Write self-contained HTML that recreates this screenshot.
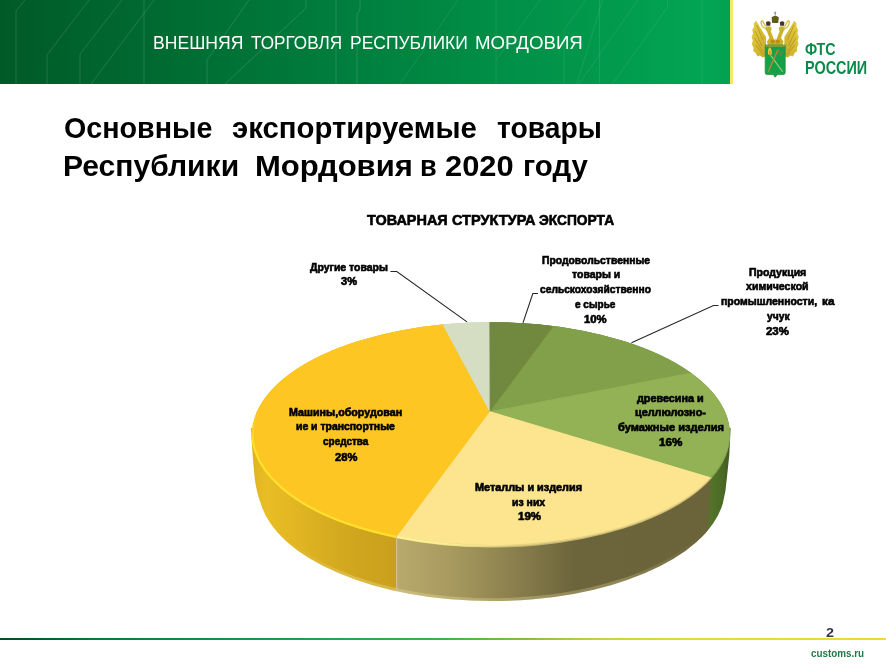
<!DOCTYPE html>
<html lang="ru">
<head>
<meta charset="utf-8">
<title>Внешняя торговля Республики Мордовия</title>
<style>
html,body{margin:0;padding:0;background:#fff;}
body{width:886px;height:664px;position:relative;overflow:hidden;font-family:"Liberation Sans",sans-serif;}
.abs{position:absolute;}
.t{position:absolute;white-space:pre;transform-origin:left top;}
.l{-webkit-text-stroke:0.6px #000;}
.m{-webkit-text-stroke:0.6px #000;}
#hdr{position:absolute;left:0;top:0;width:730px;height:84px;background:linear-gradient(90deg,#005a27 0%,#00803e 50%,#02a553 97%,#04a052 100%);}
#hdrstripe{position:absolute;left:729.8px;top:0;width:3.3px;height:84px;background:#f5e66c;}
#ftline{position:absolute;left:0;top:637.7px;width:886px;height:2.8px;background:linear-gradient(90deg,#004d1e 0%,#0a7a38 11%,#0e9448 25%,#1fa64c 37%,#3fb14a 50%,#7dc043 59%,#c6d636 68%,#e8dc30 79%,#f2d92c 100%);}
</style>
</head>
<body>
<div id="hdr"></div>
<div id="hdrstripe"></div>
<svg class="abs" style="left:0;top:0" width="730" height="84" viewBox="0 0 730 84" fill="none" stroke="#ffffff" stroke-opacity="0.2" stroke-width="0.7">
<path d="M25 0L16 11V84"/>
<path d="M89 0L47 55V84"/>
<path d="M122 0L80 54V84"/>
<path d="M154 0L91 84"/>
<path d="M144 0V84"/>
<path d="M249 0L207 60V84"/>
<path d="M306 0V8L225 84"/>
<path d="M336 0V84"/>
<path d="M360 0V10L357 14V84"/>
<g stroke-opacity="0.13">
<path d="M458 0L400 84"/>
<path d="M496 0V84"/>
<path d="M540 0L496 60"/>
<path d="M586 0L564 30V84"/>
<path d="M602.5 0L576.8 84"/>
<path d="M599.5 0V84"/>
<path d="M638 0L578.8 84"/>
<path d="M667.7 0V7L612.4 84"/>
<path d="M702 0V84"/>
</g>
</svg>
<div id="ftline"></div>
<svg class="abs" style="left:0;top:0" width="886" height="664" viewBox="0 0 886 664">
<defs>
<linearGradient id="gy" gradientUnits="userSpaceOnUse" x1="252" y1="0" x2="396" y2="0">
<stop offset="0" stop-color="#e0b421"/><stop offset="0.1" stop-color="#e9bd24"/><stop offset="0.25" stop-color="#e4b823"/><stop offset="0.5" stop-color="#d8ad20"/><stop offset="0.75" stop-color="#cfa51e"/><stop offset="1" stop-color="#c9a01d"/>
</linearGradient>
<linearGradient id="gl" gradientUnits="userSpaceOnUse" x1="396" y1="0" x2="711" y2="0">
<stop offset="0" stop-color="#b8a96c"/><stop offset="0.17" stop-color="#a99b5f"/><stop offset="0.4" stop-color="#867c4b"/><stop offset="0.57" stop-color="#6c643b"/><stop offset="1" stop-color="#6b633a"/>
</linearGradient>
<linearGradient id="gg" gradientUnits="userSpaceOnUse" x1="708" y1="0" x2="731" y2="0">
<stop offset="0" stop-color="#56762a"/><stop offset="0.6" stop-color="#4c6a25"/><stop offset="1" stop-color="#3f5820"/>
</linearGradient>
<linearGradient id="bb" gradientUnits="userSpaceOnUse" x1="290" y1="0" x2="700" y2="0">
<stop offset="0" stop-color="#fff2b0" stop-opacity="0"/><stop offset="0.15" stop-color="#fff2b0" stop-opacity="0.28"/><stop offset="0.8" stop-color="#fff2b0" stop-opacity="0.25"/><stop offset="1" stop-color="#fff2b0" stop-opacity="0"/>
</linearGradient>
<clipPath id="wallclip"><path d="M250.8 428L252.6 455L254.6 477.7Q256.4 492 260.8 503.6A233.4 113.8 0 0 0 722.8 503.6Q726 491 726.9 477.7L729.3 455L730.6 428Z"/></clipPath>
<clipPath id="c0"><ellipse cx="491" cy="434.9" rx="239.1" ry="112.7"/></clipPath>
<clipPath id="c1"><ellipse cx="491" cy="434.3" rx="238.9" ry="112.1"/></clipPath>
<clipPath id="c2"><ellipse cx="491" cy="433.6" rx="238.6" ry="111.4"/></clipPath>
<g id="slices">
<polygon id="s6" points="490.2,411.8 207,792 -300,500 -300,200 350,152"/>
<polygon id="s1" points="490.2,411.8 350,152 489.4,140"/>
<polygon id="s2" points="490.2,411.8 489.4,140 678,160"/>
<polygon id="s3" points="490.2,411.8 678,160 1086,297"/>
<polygon id="s4" points="490.2,411.8 1086,297 1152,610"/>
<polygon id="s5" points="490.2,411.8 1152,610 600,1000 207,792"/>
</g>
</defs>
<g clip-path="url(#wallclip)">
<polygon points="700,420 740,420 740,620 700,620" fill="url(#gg)"/>
<polygon points="240,420 397,420 397,620 240,620" fill="url(#gy)"/>
<polygon points="396,420 713,420 704.2,620 396,620" fill="url(#gl)"/>
<path d="M290 544.6A233.4 113.8 0 0 0 700 538.8" fill="none" stroke="url(#bb)" stroke-width="6"/>
</g>
<g clip-path="url(#c0)" stroke-width="1" stroke-linejoin="round">
<use href="#s6" fill="#e6b820" stroke="#e6b820"/><use href="#s1" fill="#c3cbac" stroke="#c3cbac"/><use href="#s2" fill="#668338" stroke="#668338"/><use href="#s3" fill="#789841" stroke="#789841"/><use href="#s4" fill="#7f9f49" stroke="#7f9f49"/><use href="#s5" fill="#c9b873" stroke="#c9b873"/>
</g>
<g clip-path="url(#c1)" stroke-width="1" stroke-linejoin="round">
<use href="#s6" fill="#f3c424" stroke="#f3c424"/><use href="#s1" fill="#ccd4b6" stroke="#ccd4b6"/><use href="#s2" fill="#6a873b" stroke="#6a873b"/><use href="#s3" fill="#7d9d45" stroke="#7d9d45"/><use href="#s4" fill="#88a850" stroke="#88a850"/><use href="#s5" fill="#e6d283" stroke="#e6d283"/>
</g>
<g clip-path="url(#c2)" stroke-width="1" stroke-linejoin="round">
<use href="#s6" fill="#fdc622" stroke="#fdc622"/><use href="#s1" fill="#d5dec3" stroke="#d5dec3"/><use href="#s2" fill="#71893f" stroke="#71893f"/><use href="#s3" fill="#829f49" stroke="#829f49"/><use href="#s4" fill="#93b155" stroke="#93b155"/><use href="#s5" fill="#fde48f" stroke="#fde48f"/>
</g>
<!-- bevel highlight along the front rim -->
<linearGradient id="hl" gradientUnits="userSpaceOnUse" x1="396" y1="0" x2="520" y2="0">
<stop offset="0" stop-color="#fff596" stop-opacity="1"/><stop offset="0.45" stop-color="#fff596" stop-opacity="0.8"/><stop offset="1" stop-color="#fff596" stop-opacity="0"/>
</linearGradient>
<linearGradient id="hy" gradientUnits="userSpaceOnUse" x1="0" y1="412" x2="0" y2="440">
<stop offset="0" stop-color="#ffe02c" stop-opacity="0"/><stop offset="1" stop-color="#ffe02c" stop-opacity="1"/>
</linearGradient>
<g fill="none" stroke-width="2.2">
<path d="M255.9 415A238.6 112 0 0 0 396.4 536.8" stroke="url(#hy)"/>
<path d="M396.4 536.8A238.6 112 0 0 0 520 545.2" stroke="url(#hl)"/>
</g>
<path d="M396.6 536L396.6 590" stroke="#d8c98c" stroke-width="1.2" stroke-opacity="0.8"/>
</svg>
<svg class="abs" style="left:0;top:0" width="886" height="664" viewBox="0 0 886 664" fill="none" stroke="#262626" stroke-width="1.1">
<path d="M390.4 271.5H396.8L467 321.9"/>
<path d="M538 293.5H532.8L523 322.8"/>
<path d="M718.5 305.5H713.5L631.5 342.8"/>
</svg>
<svg class="abs" style="left:0;top:0" width="886" height="90" viewBox="0 0 886 90">
<defs>
<linearGradient id="wg" x1="0" y1="0" x2="1" y2="1"><stop offset="0" stop-color="#e2cf42"/><stop offset="1" stop-color="#c9ab28"/></linearGradient>
<filter id="lb" x="-10%" y="-10%" width="120%" height="120%"><feGaussianBlur stdDeviation="0.45"/></filter>
</defs>
<g filter="url(#lb)">
<!-- left wing -->
<path id="lw" d="M756.1 20.8L757.8 23.5L760.4 28L763.2 32.5L766 37L766 56.2L762.8 57.4L759.8 55.6L757.6 56.6L755.4 52.6L753.4 51.4L753.4 47.4L751.8 44.2L752.8 40.6L751.6 37L753 33.4L752.2 29.8L754 26.8L753.8 23.4Z" fill="url(#wg)"/>
<path d="M756.5 25L763 40M755 31L762 46M754.5 38L762.5 51M755.5 45L763.5 55" stroke="#b4861c" stroke-width="0.8" fill="none" opacity="0.85"/>
<!-- right wing (mirrored about x=775.2) -->
<g transform="translate(1550.4 0) scale(-1 1)">
<path d="M756.1 20.8L757.8 23.5L760.4 28L763.2 32.5L766 37L766 56.2L762.8 57.4L759.8 55.6L757.6 56.6L755.4 52.6L753.4 51.4L753.4 47.4L751.8 44.2L752.8 40.6L751.6 37L753 33.4L752.2 29.8L754 26.8L753.8 23.4Z" fill="url(#wg)"/>
<path d="M756.5 25L763 40M755 31L762 46M754.5 38L762.5 51M755.5 45L763.5 55" stroke="#b4861c" stroke-width="0.8" fill="none" opacity="0.85"/>
</g>
<!-- body & necks -->
<path d="M766.8 31L770.3 30L774.4 40.5L775.2 38L776 40.5L780.1 30L783.6 31L781 38L783.5 41.5L782.5 45.5H768L767 41.5L769.4 38Z" fill="#cbb22a"/>
<path d="M770.5 41.5a2.2 2 0 1 0 4.4 0a2.2 2 0 1 0 -4.4 0M775.6 41.5a2.2 2 0 1 0 4.4 0a2.2 2 0 1 0 -4.4 0" fill="#b8901c"/>
<!-- heads -->
<ellipse cx="768.6" cy="28.8" rx="3" ry="2.6" fill="#c2b830"/>
<ellipse cx="781.8" cy="28.8" rx="3" ry="2.6" fill="#c2b830"/>
<!-- beaks / tongues -->
<path d="M766 28.5C763 28 761.5 26 761 22.5C760.8 21 762.2 20.5 763 21.5C764 23.5 764.5 25.5 766.5 26.5" fill="none" stroke="#cdbd3a" stroke-width="1.3"/>
<path d="M784.4 28.5C787.4 28 788.9 26 789.4 22.5C789.6 21 788.2 20.5 787.4 21.5C786.4 23.5 785.9 25.5 783.9 26.5" fill="none" stroke="#cdbd3a" stroke-width="1.3"/>
<!-- crowns -->
<path d="M771.6 17.2Q775.2 14.2 778.8 17.2L778.2 23H772.2Z" fill="#5e5b1f"/>
<path d="M775.2 11.6V15.5M774.2 12.8H776.2" stroke="#7a7a80" stroke-width="0.9"/>
<path d="M766 22.2Q768.3 20.2 770.6 22.2L770.2 25.8H766.4Z" fill="#4b3131"/>
<path d="M779.8 22.2Q782.1 20.2 784.4 22.2L784 25.8H780.2Z" fill="#4b3131"/>
<!-- shield -->
<path d="M765.2 45H785.2V72.6Q785.2 74.6 783.2 74.6H777.2L775.2 77.2L773.2 74.6H767.2Q765.2 74.6 765.2 72.6Z" fill="#19a148" stroke="#2c8a3c" stroke-width="0.8"/>
<path d="M765.4 45.3H785V46.6H765.4Z" fill="#d89a2a" opacity="0.85"/>
<!-- torch flame -->
<path d="M768.2 54.5Q767.2 50 769.4 47.2Q772.2 49 771.8 54Q770.4 55.6 768.2 54.5Z" fill="#f2c73a"/>
<path d="M769 54.2Q768.6 51.5 769.8 50Q771 52 770.8 54.2Z" fill="#f08a2a"/>
<!-- crossed staffs -->
<path d="M770.6 55.2L782.6 71.8" stroke="#a9cf7a" stroke-width="1.1"/>
<path d="M778 49.5L768.2 71.8" stroke="#b98a3c" stroke-width="1.3"/>
<path d="M776.2 51.5L781.8 55.5M777.5 50L782.2 52.5" stroke="#a8703a" stroke-width="0.9"/>
</g>
</svg>
<div class="t " style="left:153.0px;top:33.1px;font-size:19.2px;line-height:19.2px;font-weight:normal;color:#fff;transform:scaleX(0.9163)">ВНЕШНЯЯ</div>
<div class="t " style="left:250.5px;top:33.1px;font-size:19.2px;line-height:19.2px;font-weight:normal;color:#fff;transform:scaleX(0.8936)">ТОРГОВЛЯ</div>
<div class="t " style="left:349.8px;top:33.1px;font-size:19.2px;line-height:19.2px;font-weight:normal;color:#fff;transform:scaleX(0.9110)">РЕСПУБЛИКИ</div>
<div class="t " style="left:475.3px;top:33.1px;font-size:19.2px;line-height:19.2px;font-weight:normal;color:#fff;transform:scaleX(0.9732)">МОРДОВИЯ</div>
<div class="t " style="left:63.6px;top:112.8px;font-size:30px;line-height:30px;font-weight:bold;color:#000;transform:scaleX(0.9561)">Основные</div>
<div class="t " style="left:231.5px;top:112.8px;font-size:30px;line-height:30px;font-weight:bold;color:#000;transform:scaleX(0.9776)">экспортируемые</div>
<div class="t " style="left:497.4px;top:112.8px;font-size:30px;line-height:30px;font-weight:bold;color:#000;transform:scaleX(0.9412)">товары</div>
<div class="t " style="left:62.6px;top:150.7px;font-size:30px;line-height:30px;font-weight:bold;color:#000;transform:scaleX(1.0019)">Республики</div>
<div class="t " style="left:255.1px;top:150.7px;font-size:30px;line-height:30px;font-weight:bold;color:#000;transform:scaleX(1.0340)">Мордовия</div>
<div class="t " style="left:420.3px;top:150.7px;font-size:30px;line-height:30px;font-weight:bold;color:#000;transform:scaleX(0.9051)">в</div>
<div class="t " style="left:444.6px;top:150.7px;font-size:30px;line-height:30px;font-weight:bold;color:#000;transform:scaleX(1.0281)">2020</div>
<div class="t " style="left:522.8px;top:150.7px;font-size:30px;line-height:30px;font-weight:bold;color:#000;transform:scaleX(0.9808)">году</div>
<div class="t m" style="left:366.6px;top:212.5px;font-size:14.5px;line-height:14.5px;font-weight:bold;color:#000;transform:scaleX(0.9959)">ТОВАРНАЯ</div>
<div class="t m" style="left:451.5px;top:212.5px;font-size:14.5px;line-height:14.5px;font-weight:bold;color:#000;transform:scaleX(1.0013)">СТРУКТУРА</div>
<div class="t m" style="left:539.2px;top:212.5px;font-size:14.5px;line-height:14.5px;font-weight:bold;color:#000;transform:scaleX(0.9498)">ЭКСПОРТА</div>
<div class="t l" style="left:309.5px;top:263.4px;font-size:10.4px;line-height:10.4px;font-weight:bold;color:#000;transform:scaleX(1.0071)">Другие товары</div>
<div class="t l" style="left:340.6px;top:277.2px;font-size:10.4px;line-height:10.4px;font-weight:bold;color:#000;transform:scaleX(1.0697)">3%</div>
<div class="t l" style="left:542.0px;top:255.7px;font-size:10.4px;line-height:10.4px;font-weight:bold;color:#000;transform:scaleX(0.9962)">Продовольственные</div>
<div class="t l" style="left:571.7px;top:270.1px;font-size:10.4px;line-height:10.4px;font-weight:bold;color:#000;transform:scaleX(1.0080)">товары и</div>
<div class="t l" style="left:540.4px;top:284.5px;font-size:10.4px;line-height:10.4px;font-weight:bold;color:#000;transform:scaleX(0.9847)">сельскохозяйственно</div>
<div class="t l" style="left:575.2px;top:299.9px;font-size:10.4px;line-height:10.4px;font-weight:bold;color:#000;transform:scaleX(0.9651)">е сырье</div>
<div class="t l" style="left:584.3px;top:315.2px;font-size:10.4px;line-height:10.4px;font-weight:bold;color:#000;transform:scaleX(1.0895)">10%</div>
<div class="t l" style="left:748.9px;top:268.0px;font-size:10.4px;line-height:10.4px;font-weight:bold;color:#000;transform:scaleX(1.0118)">Продукция</div>
<div class="t l" style="left:746.2px;top:281.9px;font-size:10.4px;line-height:10.4px;font-weight:bold;color:#000;transform:scaleX(1.0180)">химической</div>
<div class="t l" style="left:720.9px;top:296.9px;font-size:10.4px;line-height:10.4px;font-weight:bold;color:#000;transform:scaleX(1.0096)">промышленности,</div>
<div class="t l" style="left:821.9px;top:296.9px;font-size:10.4px;line-height:10.4px;font-weight:bold;color:#000;transform:scaleX(1.1299)">ка</div>
<div class="t l" style="left:766.7px;top:311.7px;font-size:10.4px;line-height:10.4px;font-weight:bold;color:#000;transform:scaleX(0.9910)">учук</div>
<div class="t l" style="left:766.3px;top:326.5px;font-size:10.4px;line-height:10.4px;font-weight:bold;color:#000;transform:scaleX(1.1030)">23%</div>
<div class="t l" style="left:636.9px;top:393.9px;font-size:10.4px;line-height:10.4px;font-weight:bold;color:#000;transform:scaleX(1.0406)">древесина и</div>
<div class="t l" style="left:635.1px;top:408.3px;font-size:10.4px;line-height:10.4px;font-weight:bold;color:#000;transform:scaleX(1.0441)">целлюлозно-</div>
<div class="t l" style="left:617.5px;top:422.7px;font-size:10.4px;line-height:10.4px;font-weight:bold;color:#000;transform:scaleX(1.0658)">бумажные изделия</div>
<div class="t l" style="left:658.9px;top:437.7px;font-size:10.4px;line-height:10.4px;font-weight:bold;color:#000;transform:scaleX(1.1246)">16%</div>
<div class="t l" style="left:474.6px;top:483.4px;font-size:10.4px;line-height:10.4px;font-weight:bold;color:#000;transform:scaleX(1.0455)">Металлы и изделия</div>
<div class="t l" style="left:512.1px;top:497.8px;font-size:10.4px;line-height:10.4px;font-weight:bold;color:#000;transform:scaleX(1.0100)">из них</div>
<div class="t l" style="left:517.5px;top:512.2px;font-size:10.4px;line-height:10.4px;font-weight:bold;color:#000;transform:scaleX(1.1096)">19%</div>
<div class="t l" style="left:289.2px;top:407.5px;font-size:10.4px;line-height:10.4px;font-weight:bold;color:#000;transform:scaleX(1.0313)">Машины,оборудован</div>
<div class="t l" style="left:296.0px;top:422.3px;font-size:10.4px;line-height:10.4px;font-weight:bold;color:#000;transform:scaleX(1.0041)">ие и транспортные</div>
<div class="t l" style="left:322.9px;top:436.9px;font-size:10.4px;line-height:10.4px;font-weight:bold;color:#000;transform:scaleX(0.9602)">средства</div>
<div class="t l" style="left:334.6px;top:452.6px;font-size:10.4px;line-height:10.4px;font-weight:bold;color:#000;transform:scaleX(1.0733)">28%</div>
<div class="t " style="left:805.3px;top:41.7px;font-size:16.8px;line-height:16.8px;font-weight:bold;color:#0a8a48;transform:scaleX(0.8483)">ФТС</div>
<div class="t " style="left:805.3px;top:59.7px;font-size:17.6px;line-height:17.6px;font-weight:bold;color:#0a8a48;transform:scaleX(0.8193)">РОССИИ</div>
<div class="t " style="left:825.5px;top:627.3px;font-size:12.5px;line-height:12.5px;font-weight:bold;color:#34344a;transform:scaleX(1.1475)">2</div>
<div class="t " style="left:811.4px;top:647.9px;font-size:11.4px;line-height:11.4px;font-weight:bold;color:#1e7a46;transform:scaleX(0.8652)">customs.ru</div></body></html>
